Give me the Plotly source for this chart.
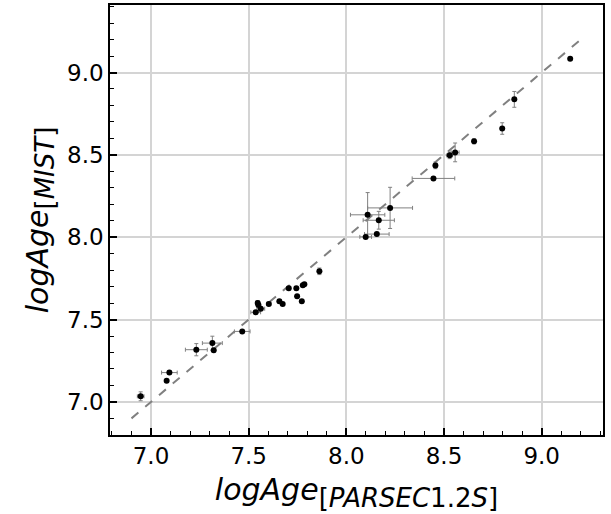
import plotly.graph_objects as go

# Data
log_age_parsec = [6.947, 7.080, 7.094, 7.232, 7.314, 7.321, 7.467, 7.536, 7.546, 7.550,
                  7.562, 7.603, 7.657, 7.674, 7.705, 7.744, 7.748, 7.772, 7.777, 7.785,
                  7.862, 8.099, 8.156, 8.109, 8.166, 8.224, 8.446, 8.456, 8.529, 8.557,
                  8.654, 8.798, 8.860, 9.146]
log_age_mist = [7.034, 7.129, 7.178, 7.317, 7.357, 7.313, 7.428, 7.544, 7.600, 7.588,
                7.566, 7.595, 7.611, 7.595, 7.690, 7.690, 7.641, 7.611, 7.708, 7.714,
                7.793, 8.002, 8.019, 8.136, 8.103, 8.178, 8.357, 8.436, 8.497, 8.515,
                8.582, 8.660, 8.837, 9.084]
err_parsec = [0.017, 0.0, 0.040, 0.056, 0.051, 0.0, 0.040, 0.025, 0.010, 0.010,
              0.020, 0.010, 0.0, 0.0, 0.010, 0.0, 0.0, 0.0, 0.0, 0.0,
              0.0, 0.030, 0.063, 0.088, 0.080, 0.115, 0.109, 0.010, 0.015, 0.020,
              0.0, 0.0, 0.0, 0.0]
err_mist = [0.027, 0.0, 0.010, 0.037, 0.042, 0.010, 0.005, 0.010, 0.015, 0.010,
            0.010, 0.010, 0.010, 0.0, 0.0, 0.010, 0.010, 0.010, 0.0, 0.0,
            0.020, 0.0, 0.010, 0.135, 0.054, 0.125, 0.0, 0.020, 0.020, 0.057,
            0.015, 0.035, 0.048, 0.0]
one_to_one = [6.9, 9.2]
tick_vals = [7.0, 7.5, 8.0, 8.5, 9.0]
tick_text = ["7.0", "7.5", "8.0", "8.5", "9.0"]

fig = go.Figure()
fig.add_trace(go.Scatter(
    x=one_to_one, y=one_to_one, mode="lines",
    line=dict(color="#808080", width=2, dash="dash"),
    showlegend=False, hoverinfo="skip",
))
fig.add_trace(go.Scatter(
    x=log_age_parsec, y=log_age_mist, mode="markers",
    marker=dict(color="black", size=6),
    error_x=dict(type="data", array=err_parsec, color="#808080", thickness=1, width=2),
    error_y=dict(type="data", array=err_mist, color="#808080", thickness=1, width=2),
    showlegend=False,
))

axis_common = dict(
    showline=True, linecolor="black", linewidth=1.5, mirror=True,
    ticks="inside", ticklen=7, tickwidth=1.5, tickcolor="black",
    tickvals=tick_vals, ticktext=tick_text,
    showgrid=True, gridcolor="#d4d4d4", gridwidth=1.5,
    zeroline=False,
    tickfont=dict(family="DejaVu Sans", size=23, color="black"),
    minor=dict(ticks="inside", ticklen=4, tickwidth=1, tickcolor="black",
               dtick=0.1, tick0=7.0, showgrid=False),
)

SUB = '<span style="font-size:26px">'

fig.update_layout(
    width=611, height=514,
    margin=dict(l=110, r=8, t=3, b=79),
    paper_bgcolor="white", plot_bgcolor="white",
    font=dict(family="DejaVu Sans", color="black"),
    xaxis=dict(
        range=[6.79, 9.314],
        title=dict(text="<i>logAge</i><sub>" + SUB + "[<i>PARSEC</i>1.2<i>S</i>]</span></sub>",
                   font=dict(family="DejaVu Sans", size=30, color="black"), standoff=11),
        **axis_common,
    ),
    yaxis=dict(
        range=[6.799, 9.41],
        title=dict(text="<i>logAge</i><sub>" + SUB + "[<i>MIST</i>]</span></sub>",
                   font=dict(family="DejaVu Sans", size=30, color="black"), standoff=10),
        **axis_common,
    ),
)

fig.write_html("out.html")
